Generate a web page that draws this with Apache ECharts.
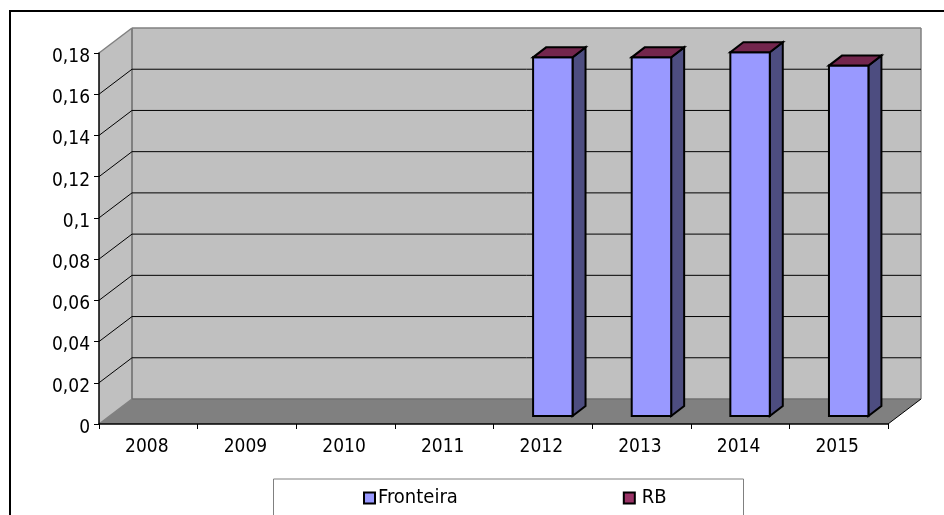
<!DOCTYPE html>
<html>
<head>
<meta charset="utf-8">
<style>html,body{margin:0;padding:0;background:#fff;overflow:hidden}#c{width:944px;height:515px}</style>
<script src="https://cdn.jsdelivr.net/npm/echarts@6/dist/echarts.min.js"></script>
</head>
<body>
<div id="c"></div>
<script>
var years = ['2008','2009','2010','2011','2012','2013','2014','2015'];
var fronteira = [null,null,null,null,0.174,0.174,0.1765,0.170];
var rb = [null,null,null,null,0,0,0,0];
var gridValues = [0.02,0.04,0.06,0.08,0.10,0.12,0.14,0.16];

var FONT = '"DejaVu Sans Condensed","DejaVu Sans",sans-serif';
var DX = 33, DY = -25;             // wall depth offset
var BX = 10, BY = -8;              // bar front-face offset
var SX = 13, SY = -10;             // bar depth

function poly(points, fill, stroke, lw) {
  return {type:'polygon', shape:{points:points},
    style:{fill:fill, stroke:stroke||null, lineWidth:lw||0, lineJoin:'miter'}};
}
function line(x1,y1,x2,y2,stroke,lw) {
  return {type:'line', shape:{x1:x1,y1:y1,x2:x2,y2:y2}, style:{stroke:stroke,lineWidth:lw}};
}

var chart = echarts.init(document.getElementById('c'), null, {renderer:'canvas'});
chart.setOption({
  animation:false,
  backgroundColor:'#fff',
  grid:{left:99, right:56, top:53, height:371, containLabel:false},
  graphic:[
    {type:'rect', z:-1, shape:{x:10,y:11,width:1000,height:1000}, style:{fill:'#fff',stroke:'#000',lineWidth:2}},
    {type:'rect', z:-1, shape:{x:273.5,y:479,width:470,height:100}, style:{fill:'#fff',stroke:'#808080',lineWidth:1}}
  ],
  legend:{
    left:358, top:483, icon:'rect', itemWidth:11, itemHeight:11, itemGap:165,
    selectedMode:false,
    textStyle:{fontFamily:FONT, fontSize:20, color:'#000', padding:[0,0,0,-2]},
    data:[
      {name:'Fronteira', icon:'rect', itemStyle:{color:'#9999ff',borderColor:'#000',borderWidth:2}},
      {name:'RB', icon:'rect', itemStyle:{color:'#993366',borderColor:'#000',borderWidth:2},
       textStyle:{padding:[0,0,0,2]}}
    ]
  },
  xAxis:{
    type:'category', data:years, boundaryGap:true, z:10,
    axisLine:{show:true, onZero:false, lineStyle:{color:'#000',width:1.5}},
    axisTick:{show:true, alignWithLabel:false, length:5, lineStyle:{color:'#000',width:1}},
    axisLabel:{fontFamily:FONT, fontSize:19, color:'#000', margin:14, padding:[0,3,0,0]},
    splitLine:{show:false}
  },
  yAxis:{
    type:'value', min:0, max:0.18, interval:0.02, z:10,
    axisLine:{show:true, lineStyle:{color:'#000',width:1.5}},
    axisTick:{show:true, length:5, lineStyle:{color:'#000',width:1}},
    axisLabel:{fontFamily:FONT, fontSize:19, color:'#000', margin:9, verticalAlign:'top', lineHeight:8,
      formatter:function(v){return String(+v.toFixed(2)).replace('.',',');}},
    splitLine:{show:false}
  },
  series:[
    {
      type:'custom', name:'walls', silent:true, z:1, clip:false,
      data:[[0,0]],
      encode:{x:0,y:1},
      renderItem:function(params,api){
        var c = params.coordSys;
        var l=c.x, r=c.x+c.width, t=c.y, b=c.y+c.height;
        return {type:'group', children:[
          poly([[l+DX,t+DY],[r+DX,t+DY],[r+DX,b+DY],[l+DX,b+DY]],'#c0c0c0'),
          poly([[l,t],[l+DX,t+DY],[l+DX,b+DY],[l,b]],'#c0c0c0'),
          poly([[l,b],[l+DX,b+DY],[r+DX,b+DY],[r,b]],'#808080'),
          line(l,t,l+DX,t+DY,'#808080',1.5),
          line(l+DX,t+DY,r+DX,t+DY,'#808080',1.5),
          line(l+DX,t+DY,l+DX,b+DY,'#808080',2),
          line(r+DX,t+DY,r+DX,b+DY,'#808080',1.5),
          line(l+DX,b+DY,r+DX,b+DY,'#707070',1.5),
          line(l,b,l+DX,b+DY,'#808080',1.5),
          line(r,b,r+DX,b+DY,'#000',1)
        ]};
      }
    },
    {
      type:'custom', name:'gridlines', silent:true, z:2, clip:false,
      data:gridValues.map(function(v){return [0,v];}),
      encode:{x:0,y:1},
      renderItem:function(params,api){
        var c = params.coordSys;
        var y = api.coord([0,api.value(1)])[1];
        var l=c.x, r=c.x+c.width;
        return {type:'group', children:[
          line(l,y,l+DX,y+DY,'#000',1),
          line(l+DX,y+DY,r+DX,y+DY,'#000',1)
        ]};
      }
    },
    {
      type:'custom', name:'Fronteira', z:3, clip:false,
      itemStyle:{color:'#9999ff'},
      data:years.map(function(y,i){return [i,fronteira[i]];}),
      encode:{x:0,y:1},
      renderItem:function(params,api){
        var v = api.value(1);
        if (v==null || isNaN(v)) return null;
        var top = api.coord([api.value(0),v]);
        var bot = api.coord([api.value(0),0]);
        var w = api.size([1,0])[0]*0.4;
        var x0 = top[0]-w/2+BX, x1 = top[0]+w/2+BX;
        var yt = top[1]+BY, yb = bot[1]+BY;
        return {type:'group', children:[
          poly([[x1,yt],[x1+SX,yt+SY],[x1+SX,yb+SY],[x1,yb]],'#4d4d80','#000',2),
          poly([[x0,yt],[x1,yt],[x1,yb],[x0,yb]],'#9999ff','#000',2)
        ]};
      }
    },
    {
      type:'custom', name:'RB', z:4, clip:false,
      itemStyle:{color:'#993366'},
      data:years.map(function(y,i){return [i,rb[i]];}),
      encode:{x:0,y:1},
      renderItem:function(params,api){
        var i = api.value(0), v = api.value(1);
        if (v==null || isNaN(v)) return null;
        var top = api.coord([i,fronteira[i]+v]);
        var w = api.size([1,0])[0]*0.4;
        var x0 = top[0]-w/2+BX, x1 = top[0]+w/2+BX, yt = top[1]+BY;
        return poly([[x0,yt],[x1,yt],[x1+SX,yt+SY],[x0+SX,yt+SY]],'#73264d','#000',2);
      }
    }
  ]
});
</script>
</body>
</html>
